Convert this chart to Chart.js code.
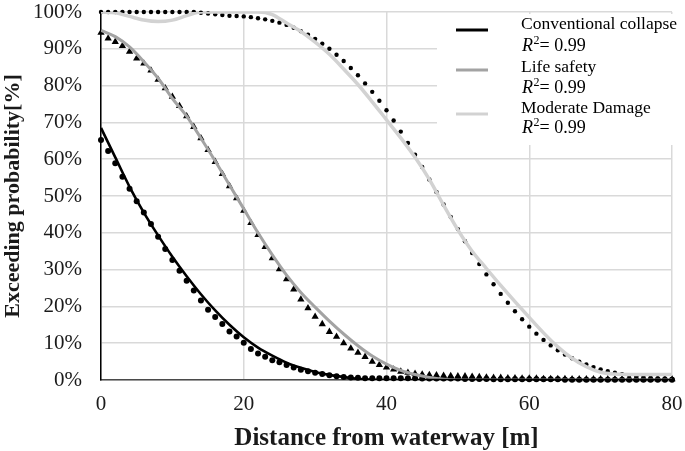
<!DOCTYPE html>
<html><head><meta charset="utf-8">
<script src="https://cdn.jsdelivr.net/npm/chart.js@4.4.1/dist/chart.umd.min.js"></script>
<style>html,body{margin:0;padding:0;background:#fff;}canvas{display:block;}</style>
</head><body>
<canvas id="c" width="685" height="451"></canvas>
<script>
// ---- data ----
const distance = [0,1,2,3,4,5,6,7,8,9,10,11,12,13,14,15,16,17,18,19,20,21,22,23,24,25,26,27,28,29,30,31,32,33,34,35,36,37,38,39,40,41,42,43,44,45,46,47,48,49,50,51,52,53,54,55,56,57,58,59,60,61,62,63,64,65,66,67,68,69,70,71,72,73,74,75,76,77,78,79,80];
const fitDistance = [0,2,4,6,8,10,12,14,16,18,20,22,24,26,28,30,32,34,36,38,40,42,44,46,48,50,52,54,56,58,60,62,64,66,68,70,72,74,76,78,80];

const collapseObs = [65.2,62.2,58.9,55.2,52.0,48.6,45.5,42.4,38.9,35.6,32.6,29.7,27.0,24.3,21.6,19.1,17.1,15.2,13.2,11.8,10.1,8.4,7.2,6.3,5.4,4.8,4.1,3.4,2.8,2.4,2.0,1.6,1.3,1.0,0.8,0.7,0.6,0.5,0.5,0.5,0.5,0.5,0.5,0.5,0.5,0.4,0.4,0.4,0.4,0.4,0.4,0.3,0.3,0.3,0.3,0.2,0.2,0.2,0.2,0.2,0.2,0.2,0.2,0.2,0.2,0.1,0.1,0.1,0.1,0.1,0.1,0.1,0.1,0.1,0.1,0.1,0.1,0.1,0.1,0.1,0.1];
const lifeObs = [94.4,92.8,91.9,90.8,89.2,87.4,86.0,84.1,81.6,79.3,77.0,74.5,71.7,68.8,65.7,62.5,59.3,56.0,52.7,49.4,46.0,42.7,39.4,36.2,33.1,30.1,27.4,24.6,21.9,19.5,17.2,15.2,13.1,11.8,10.0,8.6,7.4,6.3,5.0,4.1,3.4,2.9,2.3,2.0,1.7,1.5,1.4,1.3,1.2,1.1,1.0,1.0,0.9,0.8,0.7,0.6,0.6,0.5,0.5,0.4,0.4,0.4,0.3,0.3,0.3,0.3,0.2,0.2,0.2,0.2,0.2,0.2,0.2,0.2,0.2,0.2,0.2,0.2,0.2,0.2,0.2];
const moderateObs = [100,100,100,100,100,100,100,100,100,100,100,100,100,100,99.8,99.6,99.4,99.2,99.0,98.9,98.8,98.6,98.3,98.0,97.6,97.1,96.5,95.7,94.8,93.8,92.7,91.4,90.0,88.4,86.7,84.8,82.8,80.6,78.3,75.9,73.3,70.5,67.5,64.4,61.2,57.9,54.5,51.1,47.7,44.3,41.0,37.7,34.5,31.5,28.7,26.0,23.4,21.0,18.7,16.5,14.5,12.6,10.9,9.4,8.1,6.9,5.9,5.0,4.2,3.5,2.9,2.4,2.0,1.6,1.3,1.0,0.8,0.6,0.5,0.4,0.3];

const collapseFit = [68.5,60.5,52.5,45.5,39.3,33.5,28.2,23.3,18.9,15.0,11.6,8.8,6.6,4.7,3.3,2.2,1.4,0.8,0.3,0.1,0,0,0,0,0,0,0,0,0,0,0,0,0,0,0,0,0,0,0,0,0];
const lifeFit = [95,93.3,90.5,86.5,82,76.5,71.7,65.7,59.5,53,46.5,40,34,28.5,23.8,19.8,16,12.5,9.3,6.5,4.3,2.6,1.5,0.7,0.2,0,0,0,0,0,0,0,0,0,0,0,0,0,0,0,0];
const moderateFit = [100,99.8,98.8,97.8,97.4,97.8,99,100,100,100,100,100,99.3,97,94.7,91.8,88.5,84.5,80.3,75.6,70.7,65.8,60.5,54.5,47.5,40.8,35,30.3,25.7,21.3,17,12.8,9,5.9,3.6,2.1,1.6,1.5,1.5,1.5,1.5];

const seriesNames = ['Conventional collapse','Life safety','Moderate Damage'];
const rSquared = ['0.99','0.99','0.99'];
const xTicks = [0,20,40,60,80];
const yTicks = [0,10,20,30,40,50,60,70,80,90,100];
const xTitle = 'Distance from waterway [m]';
const yTitle = 'Exceeding probability[%]';

// ---- build ----
const pts = (xs, ys) => xs.map((x, i) => ({x, y: ys[i]}));
const SERIF = '"Liberation Serif", "Times New Roman", serif';

const legendBox = {
  id: 'legendBox',
  beforeDatasetsDraw(chart) {
    const ctx = chart.ctx;
    ctx.save();
    ctx.fillStyle = '#ffffff';
    ctx.fillRect(437, 14, 248, 131);
    const rows = [
      {lineY: 30, nameY: 29, rY: 51},
      {lineY: 70, nameY: 72, rY: 93},
      {lineY: 114, nameY: 113, rY: 133}
    ];
    rows.forEach((r, i) => {
      const ds = chart.data.datasets[i];
      ctx.strokeStyle = ds.borderColor;
      ctx.lineWidth = 3;
      ctx.beginPath();
      ctx.moveTo(456, r.lineY);
      ctx.lineTo(488, r.lineY);
      ctx.stroke();
      ctx.fillStyle = '#000';
      ctx.textBaseline = 'alphabetic';
      ctx.textAlign = 'left';
      ctx.font = '17.5px ' + SERIF;
      ctx.fillText(seriesNames[i], 521, r.nameY);
      let x = 522;
      ctx.font = 'italic 18px ' + SERIF;
      ctx.fillText('R', x, r.rY);
      x += ctx.measureText('R').width + 0.5;
      ctx.font = '12px ' + SERIF;
      ctx.fillText('2', x, r.rY - 7);
      x += ctx.measureText('2').width;
      ctx.font = '18px ' + SERIF;
      ctx.fillText('= ' + rSquared[i], x, r.rY);
    });
    ctx.restore();
  }
};

const tickFont = {family: SERIF, size: 21};

new Chart(document.getElementById('c'), {
  type: 'line',
  data: {
    datasets: [
      {label: seriesNames[0], data: pts(fitDistance, collapseFit), borderColor: '#000000', borderWidth: 2.6, pointRadius: 0, cubicInterpolationMode: 'monotone', fill: false},
      {label: seriesNames[1], data: pts(fitDistance, lifeFit), borderColor: '#a3a3a3', borderWidth: 3, pointRadius: 0, cubicInterpolationMode: 'monotone', fill: false},
      {label: seriesNames[2], data: pts(fitDistance, moderateFit), borderColor: '#d2d2d2', borderWidth: 3.5, pointRadius: 0, cubicInterpolationMode: 'monotone', fill: false},
      {label: seriesNames[0] + ' data', data: pts(distance, collapseObs), showLine: false, pointStyle: 'circle', pointRadius: 3, backgroundColor: '#000', borderColor: '#000', borderWidth: 0, clip: false},
      {label: seriesNames[1] + ' data', data: pts(distance, lifeObs), showLine: false, pointStyle: 'triangle', pointRadius: 4.2, backgroundColor: '#000', borderColor: '#000', borderWidth: 0, clip: false},
      {label: seriesNames[2] + ' data', data: pts(distance, moderateObs), showLine: false, pointStyle: 'circle', pointRadius: 2.2, backgroundColor: '#000', borderColor: '#000', borderWidth: 0, clip: false}
    ]
  },
  options: {
    responsive: false,
    animation: false,
    devicePixelRatio: 1,
    layout: {padding: {left: 0, right: 13, top: 12, bottom: 0}},
    plugins: {legend: {display: false}, tooltip: {enabled: false}},
    scales: {
      x: {
        type: 'linear', min: 0, max: 80,
        afterBuildTicks: s => { s.ticks = xTicks.map(v => ({value: v})); },
        afterFit: s => { s.height = 71; s.paddingLeft = 0; s.paddingRight = 0; },
        ticks: {font: tickFont, color: '#1a1a1a', padding: 12, maxRotation: 0},
        grid: {color: '#d9d9d9', lineWidth: 1.5, drawTicks: false},
        border: {display: true, color: '#4a4a4a', width: 1.5},
        title: {display: true, text: xTitle, color: '#1a1a1a', font: {family: SERIF, size: 25, weight: 'bold', lineHeight: 1.0}, padding: 0}
      },
      y: {
        type: 'linear', min: 0, max: 100,
        afterBuildTicks: s => { s.ticks = yTicks.map(v => ({value: v})); },
        afterFit: s => { s.width = 101; s.paddingTop = 0; s.paddingBottom = 0; },
        ticks: {font: tickFont, color: '#1a1a1a', padding: 19, callback: v => v + '%'},
        grid: {color: '#d9d9d9', lineWidth: 1.5, drawTicks: false},
        border: {display: true, color: '#000000', width: 1.5},
        title: {display: true, text: yTitle, color: '#1a1a1a', font: {family: SERIF, size: 22, weight: 'bold'}, padding: 0}
      }
    }
  },
  plugins: [legendBox]
});
</script>
</body></html>
